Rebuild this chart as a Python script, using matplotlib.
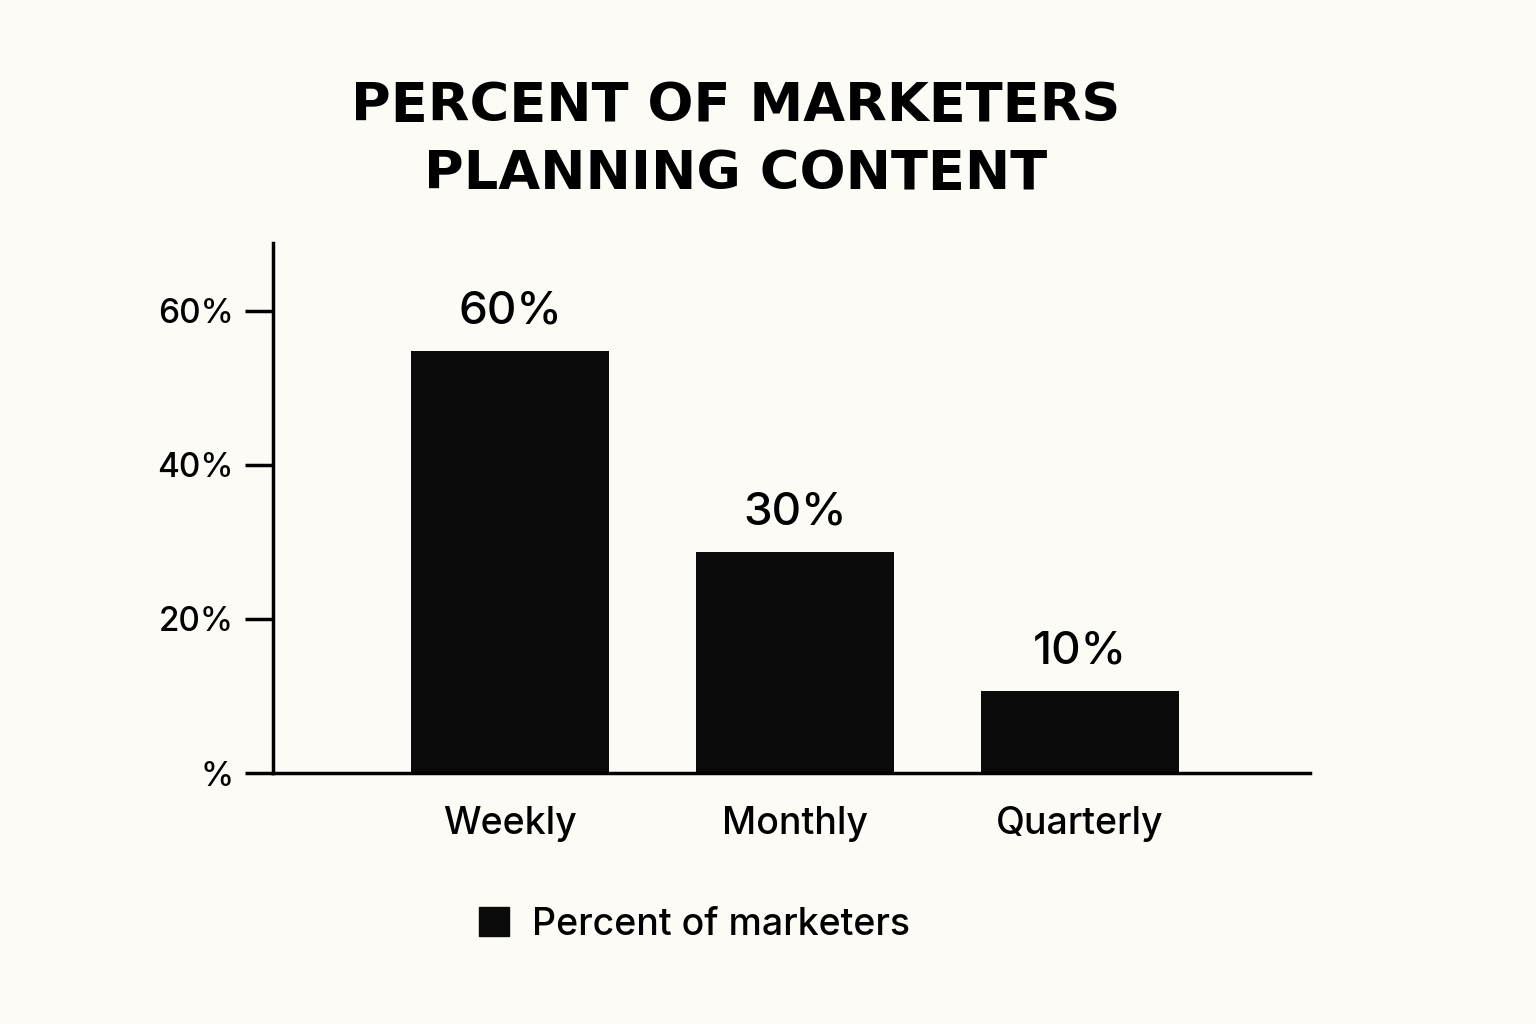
import matplotlib
matplotlib.use("Agg")
import matplotlib.pyplot as plt
from matplotlib.patches import Patch

categories = ["Weekly", "Monthly", "Quarterly"]
bar_heights = [54.8, 28.7, 10.6]
value_labels = ["60%", "30%", "10%"]
tick_values = [0, 20, 40, 60]
tick_labels = ["%", "20%", "40%", "60%"]

bg = "#fcfbf6"
plt.rcParams["font.family"] = "Inter"
fig = plt.figure(figsize=(15.36, 10.24), dpi=100, facecolor=bg)
ax = fig.add_axes([0.1777, 0.2451, 0.6751, 0.5176], facecolor=bg)
x = list(range(len(categories)))
bars = ax.bar(x, bar_heights, width=0.695, color="#0a0a0a")
for b, lab in zip(bars, value_labels):
    ax.text(b.get_x() + b.get_width() / 2, b.get_height() + 2.4, lab,
            ha="center", va="bottom", fontsize=33, fontweight="medium")
ax.set_xlim(-0.832, 2.807)
ax.set_ylim(0, 68.8)
ax.set_xticks(x)
ax.set_xticklabels(categories, fontsize=27, fontweight="medium")
ax.set_yticks(tick_values)
ax.set_yticklabels(tick_labels, fontsize=24, fontweight="medium")
ax.tick_params(axis="x", length=0, pad=24)
ax.tick_params(axis="y", length=20, width=2.5, pad=8)
for s in ["top", "right"]:
    ax.spines[s].set_visible(False)
for s in ["left", "bottom"]:
    ax.spines[s].set_linewidth(2.5)
fig.text(0.479, 0.863, "PERCENT OF MARKETERS\nPLANNING CONTENT", ha="center", va="center",
         fontsize=39, fontweight="bold", family="DejaVu Sans", linespacing=1.4)
fig.legend(handles=[Patch(color="#0a0a0a", label="Percent of marketers")],
           loc="center", bbox_to_anchor=(0.452, 0.097), frameon=False, fontsize=27,
           handlelength=0.8, handleheight=0.8, handletextpad=0.6, facecolor=bg,
           prop={"family": "Inter", "weight": "medium", "size": 27})
fig.savefig("out.png", dpi=100, facecolor=bg)
